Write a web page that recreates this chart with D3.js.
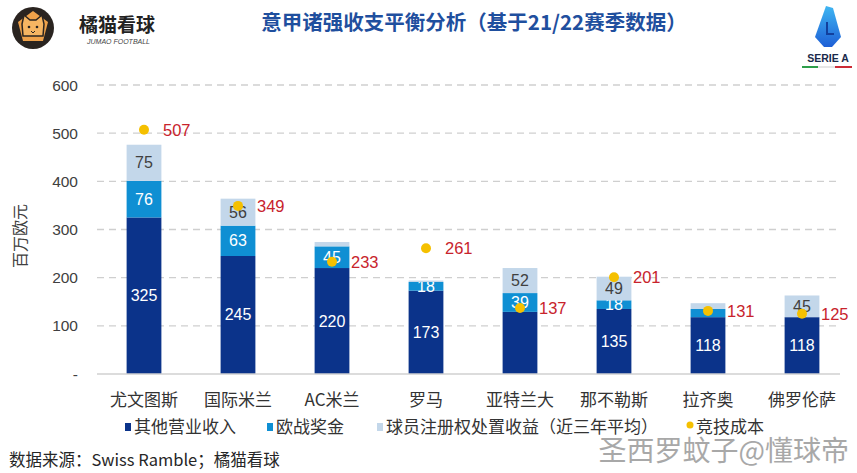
<!DOCTYPE html>
<html>
<head>
<meta charset="utf-8">
<script src="https://cdn.jsdelivr.net/npm/d3@7"></script>
<style>
  body { margin: 0; background: #fff; }
  svg { display: block; }
</style>
</head>
<body>
<svg id="chart" width="857" height="473"></svg>
<script>
// data (million euro, 21/22 season)
const clubs = ["尤文图斯", "国际米兰", "AC米兰", "罗马", "亚特兰大", "那不勒斯", "拉齐奥", "佛罗伦萨"];
const otherRevenue = [325, 245, 220, 173, 129, 135, 118, 118];
const euroPrize = [76, 63, 45, 18, 39, 18, 17, 0];
const playerTrading = [75, 56, 9, 3, 52, 49, 12, 45];
const sportCost = [507, 349, 233, 261, 137, 201, 131, 125];
const yTicks = [0, 100, 200, 300, 400, 500, 600];

const seriesNames = ["其他营业收入", "欧战奖金", "球员注册权处置收益（近三年平均）"];
const colors = ["#0b338a", "#0f8fd3", "#c3d7ea"];
const labelColors = ["#ffffff", "#ffffff", "#404040"];
const dotColor = "#f5c000";
const costColor = "#c8232c";

const cjk = "'Noto Sans CJK SC', 'Liberation Sans', sans-serif";
const num = "'Liberation Sans', Arial, sans-serif";

const svg = d3.select("#chart");
const margin = { top: 85, right: 8, bottom: 99, left: 97 };
const width = 857, height = 473;

const x = d3.scaleBand()
  .domain(clubs)
  .range([margin.left, width - margin.right])
  .paddingInner(0.63)
  .paddingOuter(0.315);

const y = d3.scaleLinear()
  .domain([0, 600])
  .range([height - margin.bottom, margin.top]);

// gridlines
svg.append("g")
  .selectAll("line")
  .data(yTicks.filter(d => d > 0))
  .enter()
  .append("line")
  .attr("x1", margin.left)
  .attr("x2", 840)
  .attr("y1", d => y(d))
  .attr("y2", d => y(d))
  .style("stroke", "#cfcfcf")
  .style("stroke-width", 1.3)
  .style("stroke-dasharray", "7,5");

// y axis labels
svg.append("g")
  .selectAll("text")
  .data(yTicks)
  .enter()
  .append("text")
  .attr("x", 78)
  .attr("y", d => y(d) + 5.5)
  .attr("text-anchor", "end")
  .attr("font-family", num)
  .attr("font-size", "15.5px")
  .attr("fill", "#404040")
  .text(d => d === 0 ? "-" : d);

svg.append("text")
  .attr("transform", `translate(26, 236) rotate(-90)`)
  .attr("text-anchor", "middle")
  .attr("font-family", cjk)
  .attr("font-size", "16px")
  .attr("fill", "#404040")
  .text("百万欧元");

// stacked bars
const table = clubs.map((c, i) => ({
  club: c,
  [seriesNames[0]]: otherRevenue[i],
  [seriesNames[1]]: euroPrize[i],
  [seriesNames[2]]: playerTrading[i]
}));
const stacked = d3.stack().keys(seriesNames)(table);

// the source chart leaves some segment values unlabelled
const hiddenLabels = ["0-亚特兰大"];

stacked.forEach((layer, li) => {
  const g = svg.append("g");
  g.selectAll("rect")
    .data(layer)
    .enter()
    .append("rect")
    .attr("x", d => x(d.data.club))
    .attr("y", d => y(d[1]))
    .attr("width", x.bandwidth())
    .attr("height", d => y(d[0]) - y(d[1]))
    .style("fill", colors[li]);

  g.selectAll("text")
    .data(layer.filter(d => d[1] - d[0] >= 18 && !hiddenLabels.includes(li + "-" + d.data.club)))
    .enter()
    .append("text")
    .attr("x", d => x(d.data.club) + x.bandwidth() / 2)
    .attr("y", d => (y(d[0]) + y(d[1])) / 2 + 5.5)
    .attr("text-anchor", "middle")
    .attr("font-family", num)
    .attr("font-size", "16px")
    .attr("fill", labelColors[li])
    .text(d => d[1] - d[0]);
});

// x axis line
svg.append("line")
  .attr("x1", margin.left)
  .attr("x2", 840)
  .attr("y1", y(0))
  .attr("y2", y(0))
  .style("stroke", "#d0d0d0")
  .style("stroke-width", 1.5);

// category labels
svg.append("g")
  .selectAll("text")
  .data(clubs)
  .enter()
  .append("text")
  .attr("x", d => x(d) + x.bandwidth() / 2)
  .attr("y", 406)
  .attr("text-anchor", "middle")
  .attr("font-family", cjk)
  .attr("font-size", "17px")
  .attr("fill", "#333")
  .text(d => d);

// sport cost dots
svg.append("g")
  .selectAll("circle")
  .data(sportCost)
  .enter()
  .append("circle")
  .attr("cx", (d, i) => x(clubs[i]) + x.bandwidth() / 2)
  .attr("cy", d => y(d))
  .attr("r", 5)
  .style("fill", dotColor);

svg.append("g")
  .selectAll("text")
  .data(sportCost)
  .enter()
  .append("text")
  .attr("x", (d, i) => x(clubs[i]) + x.bandwidth() / 2 + 19)
  .attr("y", d => y(d) + 6)
  .attr("font-family", num)
  .attr("font-size", "16.5px")
  .attr("fill", costColor)
  .text(d => d);

// legend
const legendItems = [
  { name: seriesNames[0], color: colors[0], x: 125 },
  { name: seriesNames[1], color: colors[1], x: 267 },
  { name: seriesNames[2], color: colors[2], x: 377 },
  { name: "竞技成本", color: dotColor, x: 687, dot: true }
];
const legend = svg.append("g");
legendItems.forEach(it => {
  if (it.dot) {
    legend.append("circle").attr("cx", it.x + 3).attr("cy", 425).attr("r", 3.5).style("fill", it.color);
  } else {
    legend.append("rect").attr("x", it.x).attr("y", 423).attr("width", 6).attr("height", 8).style("fill", it.color);
  }
  legend.append("text")
    .attr("x", it.x + 9)
    .attr("y", 433)
    .attr("font-family", cjk)
    .attr("font-size", "17px")
    .attr("fill", "#333")
    .text(it.name);
});

// source
svg.append("text")
  .attr("x", 9)
  .attr("y", 466)
  .attr("font-family", cjk)
  .attr("font-size", "16.5px")
  .attr("fill", "#262626")
  .text("数据来源：Swiss Ramble；橘猫看球");

// watermark
svg.append("text")
  .attr("x", 849)
  .attr("y", 461)
  .attr("text-anchor", "end")
  .attr("font-family", cjk)
  .attr("font-size", "28px")
  .attr("fill", "#9a9a9a")
  .attr("opacity", 0.85)
  .text("圣西罗蚊子@懂球帝");

// title
svg.append("text")
  .attr("x", 474)
  .attr("y", 30)
  .attr("text-anchor", "middle")
  .attr("font-family", cjk)
  .attr("font-size", "20.5px")
  .attr("font-weight", "bold")
  .attr("fill", "#1f4f9e")
  .text("意甲诸强收支平衡分析（基于21/22赛季数据）");

// brand logo (left)
const logo = svg.append("g").attr("transform", "translate(33,28)");
logo.append("circle").attr("r", 21).style("fill", "#2a2420");
logo.append("path")
  .attr("d", "M0,-17 L15,-6 L10,13 L-10,13 L-15,-6 Z")
  .style("fill", "#f0a24a");
logo.append("path")
  .attr("d", "M-11,-4 L-9,-13 L-3,-8 L3,-8 L9,-13 L11,-4 L10,8 L-10,8 Z")
  .style("fill", "#f6b562")
  .style("stroke", "#2a2420")
  .style("stroke-width", 1.5);
logo.append("circle").attr("cx", -4).attr("cy", -1).attr("r", 1.3).style("fill", "#2a2420");
logo.append("circle").attr("cx", 4).attr("cy", -1).attr("r", 1.3).style("fill", "#2a2420");
logo.append("path").attr("d", "M-2,3 L0,5 L2,3").style("fill", "none").style("stroke", "#2a2420").style("stroke-width", 1);

svg.append("text")
  .attr("x", 79)
  .attr("y", 32)
  .attr("font-family", cjk)
  .attr("font-size", "19px")
  .attr("font-weight", "bold")
  .attr("fill", "#222")
  .text("橘猫看球");
svg.append("text")
  .attr("x", 87)
  .attr("y", 44)
  .attr("font-family", num)
  .attr("font-size", "7px")
  .attr("font-style", "italic")
  .attr("fill", "#444")
  .text("JUMAO FOOTBALL");

// Serie A logo (right)
const sa = svg.append("g").attr("transform", "translate(828,0)");
const grad = svg.append("defs").append("linearGradient")
  .attr("id", "saGrad").attr("x1", "0").attr("y1", "0").attr("x2", "0").attr("y2", "1");
grad.append("stop").attr("offset", "0").attr("stop-color", "#3fb6f2");
grad.append("stop").attr("offset", "1").attr("stop-color", "#1e5fd6");
sa.append("path")
  .attr("d", "M-2,6 L5,8 L13,37 L4,47 L-4,47 L-13,37 Z")
  .style("fill", "url(#saGrad)");
sa.append("path")
  .attr("d", "M-1,22 L-1,34 L6,34")
  .style("fill", "none")
  .style("stroke", "#123f9c")
  .style("stroke-width", 2);
sa.append("text")
  .attr("y", 62)
  .attr("text-anchor", "middle")
  .attr("font-family", num)
  .attr("font-size", "10.5px")
  .attr("font-weight", "bold")
  .attr("fill", "#1a2a4a")
  .text("SERIE A");
sa.append("rect").attr("x", -26).attr("y", 66).attr("width", 16).attr("height", 2).style("fill", "#2e9e4a");
sa.append("rect").attr("x", -10).attr("y", 66).attr("width", 17).attr("height", 2).style("fill", "#e6e6e6");
sa.append("rect").attr("x", 7).attr("y", 66).attr("width", 17).attr("height", 2).style("fill", "#cc2b36");
</script>
</body>
</html>
